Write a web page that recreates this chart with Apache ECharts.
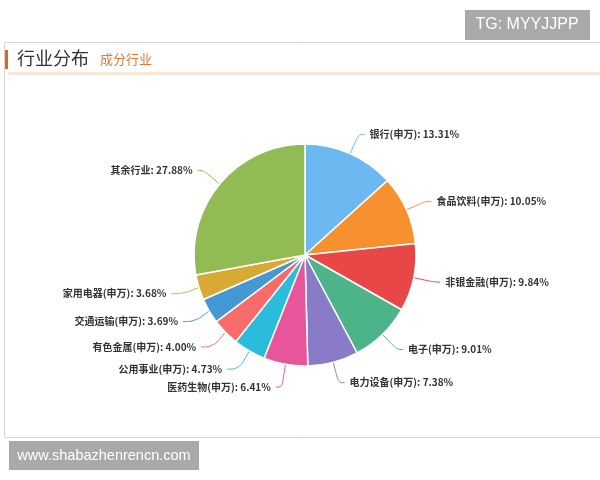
<!DOCTYPE html>
<html>
<head>
<meta charset="utf-8">
<script src="https://cdn.jsdelivr.net/npm/echarts@6/dist/echarts.min.js"></script>
<style>html,body{margin:0;padding:0;background:#fff;}#c{width:600px;height:480px;}</style>
</head>
<body>
<div id="c"></div>
<script>
var categories = ['银行(申万)','食品饮料(申万)','非银金融(申万)','电子(申万)','电力设备(申万)','医药生物(申万)','公用事业(申万)','有色金属(申万)','交通运输(申万)','家用电器(申万)','其余行业'];
var values = [13.31,10.05,9.84,9.01,7.38,6.41,4.73,4.00,3.69,3.68,27.88];
var colors = ['#6bb9f0','#f7902e','#e84748','#4cb488','#8a7bc9','#e8559a','#2bbcdc','#f76c6a','#4498d3','#d9a936','#92bb54'];

var chart = echarts.init(document.getElementById('c'), null, {renderer:'canvas'});
var data = categories.map(function(n,i){
  var left = i >= 6 && i <= 9;
  return {name:n, value:values[i], itemStyle:{color:colors[i]},
    labelLine:{length2: left ? 12 : 6, lineStyle:{color:colors[i]}}};
});
chart.setOption({
  animation:false,
  graphic:[
    {type:'rect', shape:{x:4.5,y:42.5,width:600,height:395}, style:{fill:'#fff',stroke:'#d6d6d6',lineWidth:1}},
    {type:'rect', shape:{x:5,y:50,width:3,height:19}, style:{fill:'#e0651c'}},
    {type:'rect', shape:{x:8,y:72,width:592,height:3}, style:{fill:'#fde6d6'}},
    {type:'text', left:17, top:49, style:{text:'行业分布', fill:'#333', font:'18px "Noto Sans CJK SC"'}},
    {type:'text', left:100, top:53, style:{text:'成分行业', fill:'#e07a36', font:'13px "Noto Sans CJK SC"'}},
    {type:'rect', shape:{x:465,y:10,width:125,height:30}, style:{fill:'#a9a9a9'}},
    {type:'text', x:527, y:25, style:{text:'TG: MYYJJPP', fill:'#fff', font:'16px "Liberation Sans"', align:'center', verticalAlign:'middle'}},
    {type:'rect', shape:{x:9,y:441,width:190,height:29}, style:{fill:'#a9a9a9'}},
    {type:'text', x:104, y:456, style:{text:'www.shabazhenrencn.com', fill:'#fff', font:'14.5px "Liberation Sans"', align:'center', verticalAlign:'middle'}}
  ],
  series:[{
    type:'pie',
    center:[305,255],
    radius:[0,111],
    startAngle:90,
    clockwise:true,
    data:data,
    itemStyle:{borderColor:'#fff',borderWidth:1.5},
    label:{show:true, formatter:function(p){return p.name + ': ' + p.value.toFixed(2) + '%';}, color:'#333', fontSize:10, fontWeight:'bold', fontFamily:'"Noto Sans CJK SC"', lineHeight:16},
    labelLine:{show:true, length:21, length2:6, smooth:0.4, lineStyle:{width:1}}
  }]
});
</script>
</body>
</html>
